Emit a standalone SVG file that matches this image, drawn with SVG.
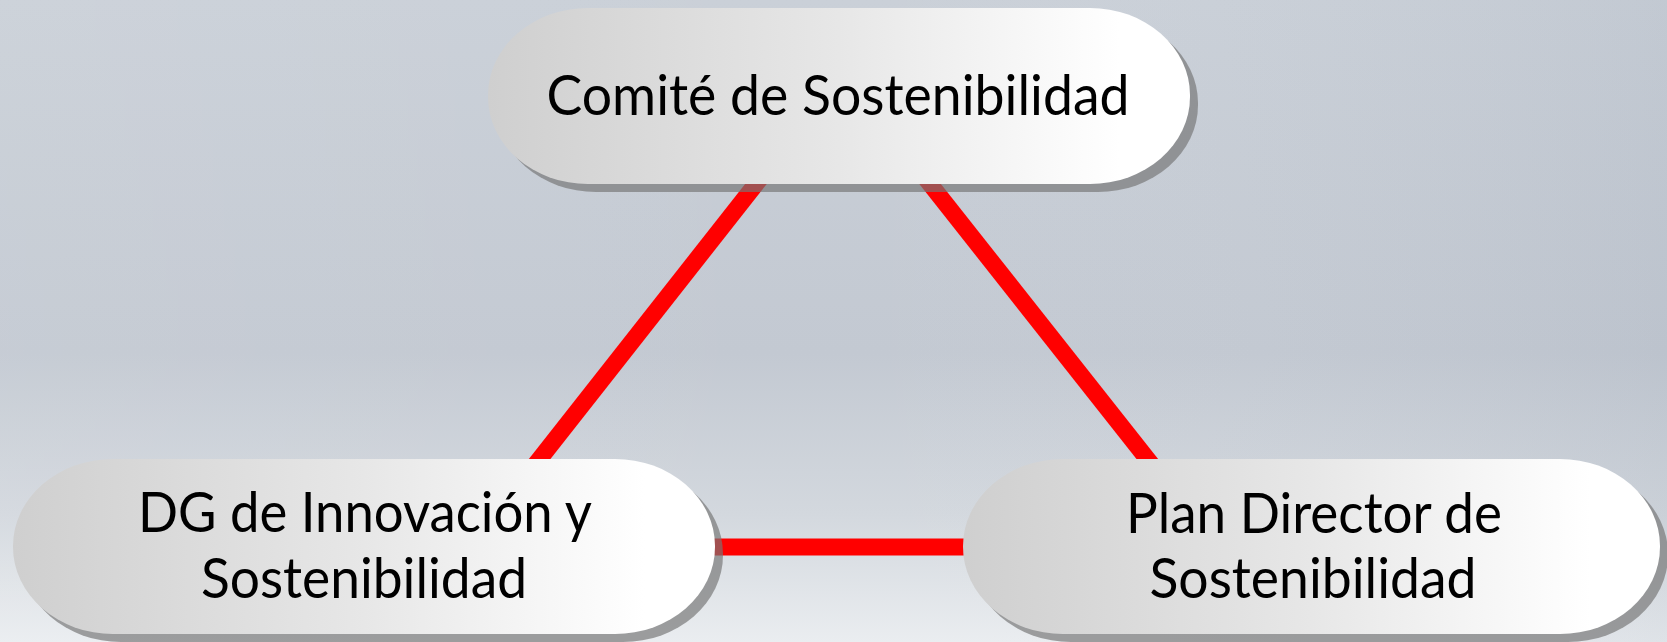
<svg xmlns="http://www.w3.org/2000/svg" width="1667" height="642" viewBox="0 0 1667 642">
  <defs>
    <linearGradient id="bg" x1="0" y1="0" x2="0" y2="1">
      <stop offset="0" stop-color="#cad0d8"/>
      <stop offset="0.55" stop-color="#c3c9d2"/>
      <stop offset="0.8" stop-color="#d3d8de"/>
      <stop offset="1" stop-color="#eaedf0"/>
    </linearGradient>
    <linearGradient id="bgside" x1="0" y1="0" x2="1" y2="0">
      <stop offset="0" stop-color="#ffffff" stop-opacity="0.06"/>
      <stop offset="0.5" stop-color="#ffffff" stop-opacity="0"/>
      <stop offset="1" stop-color="#8a96a8" stop-opacity="0.12"/>
    </linearGradient>
    <linearGradient id="nodeFill" x1="0" y1="0" x2="1" y2="0">
      <stop offset="0" stop-color="#cfcfcf"/>
      <stop offset="0.5" stop-color="#e7e7e7"/>
      <stop offset="0.9" stop-color="#ffffff"/>
      <stop offset="1" stop-color="#ffffff"/>
    </linearGradient>
  </defs>
  <style>
    .shadow { fill: #767676; fill-opacity: 0.68; }
    .node { fill: url(#nodeFill); }
    .label { font-family: Lato, "Open Sans", "Liberation Sans", sans-serif; font-size: 56px; fill: #000000; text-anchor: middle; }
    .link { stroke: #ff0000; stroke-width: 17; fill: none; }
  </style>

  <rect x="0" y="0" width="1667" height="642" fill="url(#bg)"/>
  <rect x="0" y="0" width="1667" height="642" fill="url(#bgside)"/>

  <g id="connectors">
    <line class="link" x1="763" y1="175" x2="531" y2="470"/>
    <line class="link" x1="923" y1="175" x2="1156" y2="470"/>
    <line class="link" x1="705" y1="547" x2="972" y2="547" stroke-width="16"/>
  </g>

  <g id="node-comite">
    <rect class="shadow" x="496" y="16" width="702" height="176" rx="100" ry="87"/>
    <rect class="node" x="488" y="8" width="702" height="176" rx="100" ry="87"/>
    <text class="label" x="838" y="115" textLength="583" lengthAdjust="spacingAndGlyphs">Comité de Sostenibilidad</text>
  </g>

  <g id="node-dg">
    <rect class="shadow" x="21" y="467" width="702" height="175" rx="100" ry="87"/>
    <rect class="node" x="13" y="459" width="702" height="175" rx="100" ry="87"/>
    <text class="label" x="365" y="532" textLength="454" lengthAdjust="spacingAndGlyphs">DG de Innovación y</text>
    <text class="label" x="364" y="598" textLength="326" lengthAdjust="spacingAndGlyphs">Sostenibilidad</text>
  </g>

  <g id="node-plan">
    <rect class="shadow" x="971" y="467" width="697" height="175" rx="100" ry="87"/>
    <rect class="node" x="963" y="459" width="697" height="175" rx="100" ry="87"/>
    <text class="label" x="1314" y="533" textLength="376" lengthAdjust="spacingAndGlyphs">Plan Director de</text>
    <text class="label" x="1313" y="598" textLength="327" lengthAdjust="spacingAndGlyphs">Sostenibilidad</text>
  </g>
</svg>
